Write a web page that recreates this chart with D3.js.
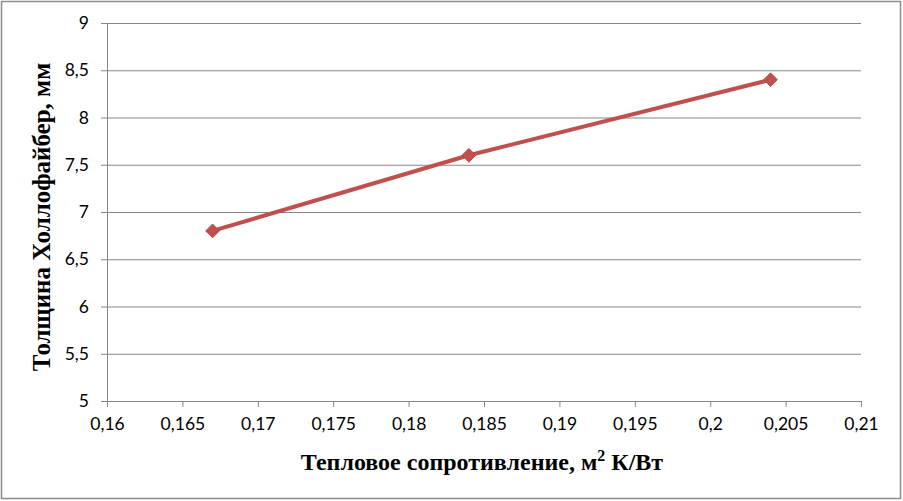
<!DOCTYPE html>
<html>
<head>
<meta charset="utf-8">
<script src="https://cdn.jsdelivr.net/npm/d3@7"></script>
<style>
  body { margin: 0; background: #fff; }
  svg { display: block; }
  .tick text { font-family: Lato, "Open Sans", sans-serif; font-size: 17.5px; fill: #000; }
</style>
</head>
<body>
<svg width="903" height="501"></svg>
<script>
const resistance = [0.167, 0.184, 0.204];
const thickness = [6.8, 7.6, 8.4];
const xTicks = [0.16, 0.165, 0.17, 0.175, 0.18, 0.185, 0.19, 0.195, 0.2, 0.205, 0.21];
const yTicks = [5, 5.5, 6, 6.5, 7, 7.5, 8, 8.5, 9];

const svg = d3.select('svg');
const fmt = (d) => String(d).replace('.', ',');

svg.append('rect')
  .attr('x', 1.5).attr('y', 1.5).attr('width', 899).attr('height', 497)
  .attr('fill', '#fff').attr('stroke', '#8c8c8c').attr('stroke-width', 1.5);

let x = d3.scaleLinear().domain([0.16, 0.21]).range([107, 861]);
let y = d3.scaleLinear().domain([5, 9]).range([401, 23]);

// horizontal gridlines + y axis
let yAxis = svg.append('g')
  .attr('transform', 'translate(107,0)')
  .call(d3.axisLeft(y).tickValues(yTicks).tickFormat(fmt).tickSize(6).tickPadding(12));
yAxis.select('.domain').attr('stroke', '#868686');
yAxis.selectAll('.tick line').attr('stroke', '#868686');
yAxis.selectAll('.tick')
  .append('line')
  .attr('x1', 0).attr('x2', 861 - 107)
  .attr('stroke', '#868686');

let xAxis = svg.append('g')
  .attr('transform', 'translate(0,401)')
  .call(d3.axisBottom(x).tickValues(xTicks).tickFormat(fmt).tickSize(6).tickPadding(11));
xAxis.select('.domain').attr('stroke', '#868686');
xAxis.selectAll('.tick line').attr('stroke', '#868686');

let pts = resistance.map((r, i) => [r, thickness[i]]);

svg.append('path')
  .datum(pts)
  .attr('fill', 'none')
  .attr('stroke', '#C0504D')
  .attr('stroke-width', 4)
  .attr('d', d3.line().x((d) => x(d[0])).y((d) => y(d[1])));

svg.selectAll('.marker')
  .data(pts)
  .join('path')
  .attr('class', 'marker')
  .attr('transform', (d) => `translate(${x(d[0])},${y(d[1])})`)
  .attr('d', d3.symbol(d3.symbolDiamond2, 120)())
  .attr('fill', '#C0504D')
  .attr('stroke', '#B84A47');

svg.append('text')
  .attr('x', 482).attr('y', 470)
  .attr('text-anchor', 'middle')
  .attr('font-family', '"Liberation Serif", "Times New Roman", serif')
  .attr('font-weight', 'bold')
  .attr('font-size', 24)
  .html('Тепловое сопротивление, м<tspan dy="-9" font-size="16">2</tspan><tspan dy="9"> К/Вт</tspan>');

svg.append('text')
  .attr('transform', 'translate(50,217) rotate(-90)')
  .attr('text-anchor', 'middle')
  .attr('font-family', '"Liberation Serif", "Times New Roman", serif')
  .attr('font-weight', 'bold')
  .attr('font-size', 25)
  .text('Толщина Холлофайбер, мм');
</script>
</body>
</html>
